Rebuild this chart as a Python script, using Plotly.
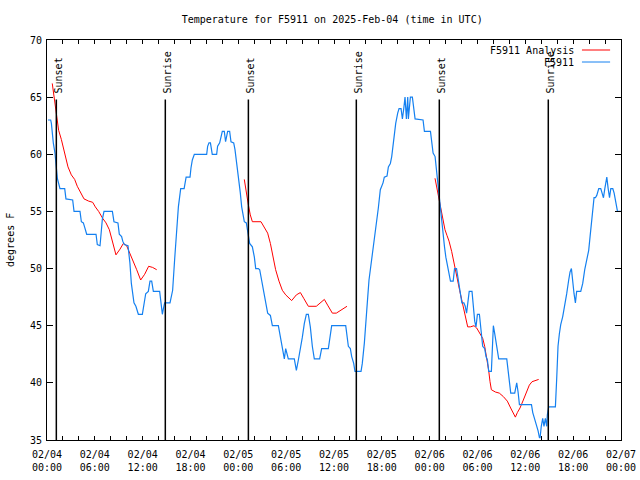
import plotly.graph_objects as go

# hours since 2025-02-04 00:00 UTC
obs_hours = [0.12, 0.46, 0.55, 0.67, 0.79, 1.00, 1.09, 1.17, 1.30, 1.63, 2.22, 2.38, 3.22, 3.39, 4.14, 4.31, 4.56, 4.73, 4.98,
             6.15, 6.31, 6.65, 6.81, 6.94, 7.15, 8.20, 8.40, 8.90, 9.07, 9.36, 9.50, 9.70, 10.16, 10.40, 10.58, 10.75, 10.91,
             11.15, 11.46, 11.96, 12.17, 12.38, 12.71, 12.92, 13.13, 13.34, 14.13, 14.30, 14.47, 14.60, 14.76, 15.43, 15.60,
             15.76, 16.01, 16.27, 16.48, 16.77, 17.20, 17.45, 17.94, 18.06, 18.23, 18.48, 20.03, 20.15, 20.32, 20.50, 20.73,
             21.28, 21.40, 21.66, 21.99, 22.24, 22.40, 22.66, 22.91, 23.08, 23.42, 23.58, 23.75, 23.92, 24.08, 24.25, 24.42,
             24.59, 24.75, 25.00, 25.17, 25.25, 25.42, 25.76, 26.01, 26.18, 26.51, 26.68, 26.93, 27.18, 27.43, 27.68, 28.02,
             28.27, 29.02, 29.27, 29.52, 29.77, 29.94, 30.10, 30.27, 31.02, 31.28, 31.53, 31.78, 32.03, 32.28, 32.53, 32.78,
             33.03, 33.28, 33.53, 34.20, 34.45, 35.29, 35.46, 35.71, 37.47, 37.63, 37.80, 38.05, 38.22, 38.47, 38.63, 39.39,
             39.55, 39.81, 40.06, 40.23, 40.39, 40.56, 40.81, 41.06, 41.31, 41.56, 41.81, 42.15, 42.31, 42.65, 42.82, 43.07,
             43.24, 43.49, 43.74, 43.99, 44.16, 44.41, 44.58, 44.75, 44.91, 45.08, 45.25, 45.33, 45.58, 45.83, 46.00, 46.17,
             47.17, 47.34, 48.10, 48.27, 48.43, 48.68, 48.85, 49.02, 49.19, 49.36, 49.52, 49.69, 49.86, 50.03, 50.28, 50.45,
             50.61, 50.95, 51.12, 51.37, 51.54, 51.79, 52.04, 52.29, 52.46, 52.63, 52.79, 52.96, 53.31, 53.48, 53.65, 53.81,
             53.99, 54.24, 54.40, 54.65, 54.90, 55.07, 55.24, 55.41, 55.74, 55.91, 55.99, 56.16, 56.41, 56.66, 57.67, 57.83,
             58.00, 58.17, 58.67, 58.92, 59.09, 59.26, 60.77, 60.93, 61.18, 61.44, 61.60, 61.77, 61.85, 62.00, 62.18, 62.34,
             62.51, 62.68, 62.76, 62.93, 63.77, 63.93, 64.10, 64.27, 64.44, 64.69, 64.94, 65.19, 65.44, 65.61, 65.78, 65.95,
             66.11, 66.28, 66.44, 66.95, 67.20, 67.45, 67.70, 67.95, 68.12, 68.29, 68.45, 68.62, 68.79, 68.96, 69.21, 69.46,
             69.63, 69.80, 69.97, 70.22, 70.39, 70.56, 70.72, 70.97, 71.14, 71.39, 71.56, 71.98]
obs_temps = [63.0, 63.0, 62.7, 61.8, 61.0, 60.1, 59.5, 58.8, 57.9, 57.0, 57.0, 56.1, 56.0, 55.0, 55.0, 54.1, 54.0, 53.6, 53.0,
             53.0, 52.1, 52.0, 53.0, 54.3, 55.0, 55.0, 54.1, 54.0, 53.0, 52.8, 52.4, 52.1, 52.0, 50.5, 48.7, 47.7, 47.0,
             46.7, 46.0, 46.0, 47.0, 47.8, 48.0, 48.9, 48.9, 48.0, 48.0, 47.0, 46.0, 46.5, 47.0, 47.0, 47.6,
             48.1, 50.8, 53.4, 55.4, 57.0, 57.0, 58.0, 58.0, 58.8, 59.5, 60.0, 60.0, 60.7, 61.0, 61.0, 60.0,
             60.0, 60.7, 61.0, 62.0, 62.0, 61.1, 62.0, 62.0, 61.1, 61.0, 60.4, 59.5, 58.6, 57.6, 56.6, 55.4,
             54.8, 54.1, 54.0, 53.4, 52.8, 52.2, 51.9, 51.0, 50.0, 50.0, 49.9, 49.0, 47.8, 47.0, 46.1, 45.9,
             45.0, 45.0, 44.0, 43.2, 42.1, 43.0, 42.6, 42.1, 42.1, 41.1, 42.0, 42.9, 44.0, 45.2, 46.0, 46.0,
             44.9, 43.2, 42.1, 42.1, 43.0, 43.0, 44.0, 45.0, 45.0, 44.0, 43.2, 43.0, 42.3, 41.7, 41.0, 41.0,
             41.7, 43.5, 45.5, 47.5, 49.0, 49.9, 51.0, 52.2, 53.7, 55.3, 56.9, 57.5, 58.0, 58.1, 58.9, 59.2,
             59.8, 61.3, 62.7, 63.6, 64.0, 64.0, 63.1, 64.0, 65.0, 63.1, 65.0, 63.1, 65.0, 65.0, 64.0, 63.1,
             63.0, 62.0, 62.0, 61.1, 60.1, 59.8, 58.6, 57.2, 56.0, 54.8, 53.7, 52.8, 51.9, 51.0, 50.2, 49.4,
             48.9, 48.9, 50.0, 50.0, 49.3, 48.1, 47.0, 47.0, 46.7, 46.1, 47.0, 48.0, 48.0, 46.7, 45.4, 44.9,
             46.0, 46.0, 44.6, 43.2, 43.0, 42.3, 42.0, 41.0, 41.0, 43.2, 45.0, 44.3, 43.2, 42.1, 42.1, 41.1,
             40.0, 39.1, 39.1, 40.0, 39.2, 38.1, 38.1, 37.4, 36.8, 36.2, 35.8, 35.2, 35.2, 36.2, 36.9, 36.2,
             36.9, 36.2, 37.2, 37.9, 37.9, 40.3, 43.2, 44.3, 45.1, 45.8, 46.7, 47.8, 49.0, 49.7, 50.0, 48.7,
             47.8, 47.0, 48.0, 48.0, 48.7, 49.9, 50.9, 51.6, 52.8, 54.0, 55.3, 56.2, 56.2, 56.4, 57.0, 57.0,
             56.6, 56.2, 57.0, 58.0, 57.0, 56.2, 57.0, 57.0, 56.6, 55.6, 55.0, 55.0]

ana_hours = [0.66, 1.13, 1.46, 1.80, 2.13, 2.38, 2.63, 3.05, 3.47, 3.80, 4.22, 4.64, 5.23, 5.73, 6.06, 6.48, 6.98, 7.40,
             7.82, 8.15, 8.40, 8.65, 9.16, 9.58, 9.99, 10.41, 10.75, 11.25, 11.75, 12.25, 12.75, 13.25, 13.76, None,
             24.75, 24.92, 25.09, 25.25, 25.50, 25.76, 26.84, 27.18, 27.68, 28.02, 28.35, 28.68, 29.10, 29.52, 29.94,
             30.69, 31.28, 31.78, 32.20, 32.78, 33.78, 34.28, 34.79, 35.20, 35.46, 35.79, 36.29, 36.96, 37.63, None,
             48.67, 48.93, 49.10, 49.26, 49.43, 49.68, 49.92, 50.17, 50.43, 50.76, 51.01, 51.26, 51.51, 51.76, 52.01,
             52.27, 52.52, 52.77, 53.10, 53.56, 53.90, 54.31, 54.65, 54.90, 55.15, 55.40, 55.57, 55.74, 56.24, 56.74,
             57.24, 57.74, 58.16, 58.50, 58.75, 59.00, 59.33, 59.75, 60.17, 60.50, 60.84, 61.25, 61.67]
ana_temps = [66.2, 63.7, 62.1, 61.3, 60.4, 59.5, 58.9, 58.2, 57.8, 57.2, 56.6, 56.1, 55.9, 55.8, 55.4, 55.0, 54.4, 54.0,
             53.4, 52.5, 51.9, 51.2, 51.7, 52.2, 52.0, 51.3, 50.9, 49.9, 49.0, 49.5, 50.2, 50.1, 49.9, None,
             57.8, 56.9, 56.3, 55.6, 54.7, 54.1, 54.1, 53.7, 53.1, 52.2, 51.0, 49.9, 48.9, 48.1, 47.7,
             47.2, 47.7, 47.9, 47.4, 46.7, 46.7, 47.0, 47.3, 46.8, 46.5, 46.1, 46.1, 46.4, 46.7, None,
             57.9, 57.0, 56.3, 55.6, 55.2, 54.1, 53.4, 52.9, 52.4, 51.5, 50.6, 49.6, 48.9, 48.1, 47.3,
             46.5, 45.8, 44.9, 44.9, 45.0, 44.8, 44.3, 43.9, 43.2, 42.3, 41.1, 40.1, 39.4, 39.2, 39.1,
             38.8, 38.4, 37.8, 37.3, 37.0, 37.4, 37.8, 38.5, 39.2, 39.8, 40.1, 40.2, 40.3]

sun_hours = [1.17, 14.84, 25.26, 38.80, 49.21, 62.88]
sun_labels = ["Sunset", "Sunrise", "Sunset", "Sunrise", "Sunset", "Sunrise"]

tick_hours = [0, 6, 12, 18, 24, 30, 36, 42, 48, 54, 60, 66, 72]
tick_labels = ["02/04<br>00:00", "02/04<br>06:00", "02/04<br>12:00", "02/04<br>18:00",
               "02/05<br>00:00", "02/05<br>06:00", "02/05<br>12:00", "02/05<br>18:00",
               "02/06<br>00:00", "02/06<br>06:00", "02/06<br>12:00", "02/06<br>18:00",
               "02/07<br>00:00"]

series_names = ["F5911 Analysis", "F5911"]
series_colors = ["#ff0000", "#1480f0"]

FONT = "DejaVu Sans Mono"

fig = go.Figure()
fig.add_trace(go.Scatter(x=ana_hours, y=ana_temps, mode="lines", name=series_names[0],
                         line=dict(color=series_colors[0], width=1), connectgaps=False))
fig.add_trace(go.Scatter(x=obs_hours, y=obs_temps, mode="lines", name=series_names[1],
                         line=dict(color=series_colors[1], width=1.2)))

for h, lab in zip(sun_hours, sun_labels):
    fig.add_shape(type="line", xref="x", yref="y", x0=h, x1=h, y0=35, y1=64.8,
                  line=dict(color="black", width=1.5))
    fig.add_annotation(x=h, y=65, xref="x", yref="y", text=lab, textangle=-90, showarrow=False,
                       xanchor="center", yanchor="bottom", xshift=2, yshift=2,
                       font=dict(family=FONT, size=10, color="black"))

# manual legend (text right-aligned, line sample on the right)
leg_y = [0.975, 0.945]
for name, col, yy in zip(series_names, series_colors, leg_y):
    fig.add_annotation(x=0.921, y=yy, xref="paper", yref="paper", text=name, showarrow=False,
                       xanchor="right", yanchor="middle", font=dict(family=FONT, size=10, color="black"))
    fig.add_shape(type="line", xref="paper", yref="paper", x0=0.932, x1=0.981, y0=yy, y1=yy,
                  line=dict(color=col, width=1))

# y-axis title as a rotated annotation
fig.add_annotation(x=-0.0645, y=0.5, xref="paper", yref="paper", text="degrees F", textangle=-90,
                   showarrow=False, xanchor="center", yanchor="middle",
                   font=dict(family=FONT, size=10, color="black"))

fig.update_layout(
    width=640, height=480,
    margin=dict(l=47, r=19, t=40, b=40),
    paper_bgcolor="white", plot_bgcolor="white",
    showlegend=False,
    font=dict(family=FONT, size=10, color="black"),
    title=dict(text="Temperature for F5911 on 2025-Feb-04 (time in UTC)", x=0.519, xanchor="center",
               y=0.960, yanchor="middle", font=dict(family=FONT, size=10, color="black")),
)
fig.update_xaxes(range=[0, 72], tickvals=tick_hours, ticktext=tick_labels, showgrid=False, zeroline=False,
                 showline=True, linecolor="black", linewidth=1, mirror="ticks", automargin=False,
                 ticks="inside", ticklen=4, tickcolor="black", ticklabelstandoff=5,
                 minor=dict(dtick=2, tick0=0, ticks="inside", ticklen=4, tickcolor="black", showgrid=False))
fig.update_yaxes(range=[35, 70], dtick=5, tick0=35, showgrid=False, zeroline=False,
                 showline=True, linecolor="black", linewidth=1, mirror="ticks", automargin=False,
                 ticks="inside", ticklen=6, tickcolor="black", ticklabelstandoff=2)

fig.write_html("out.html", config={"displayModeBar": False},
               post_script="document.body.style.margin='0px';")
